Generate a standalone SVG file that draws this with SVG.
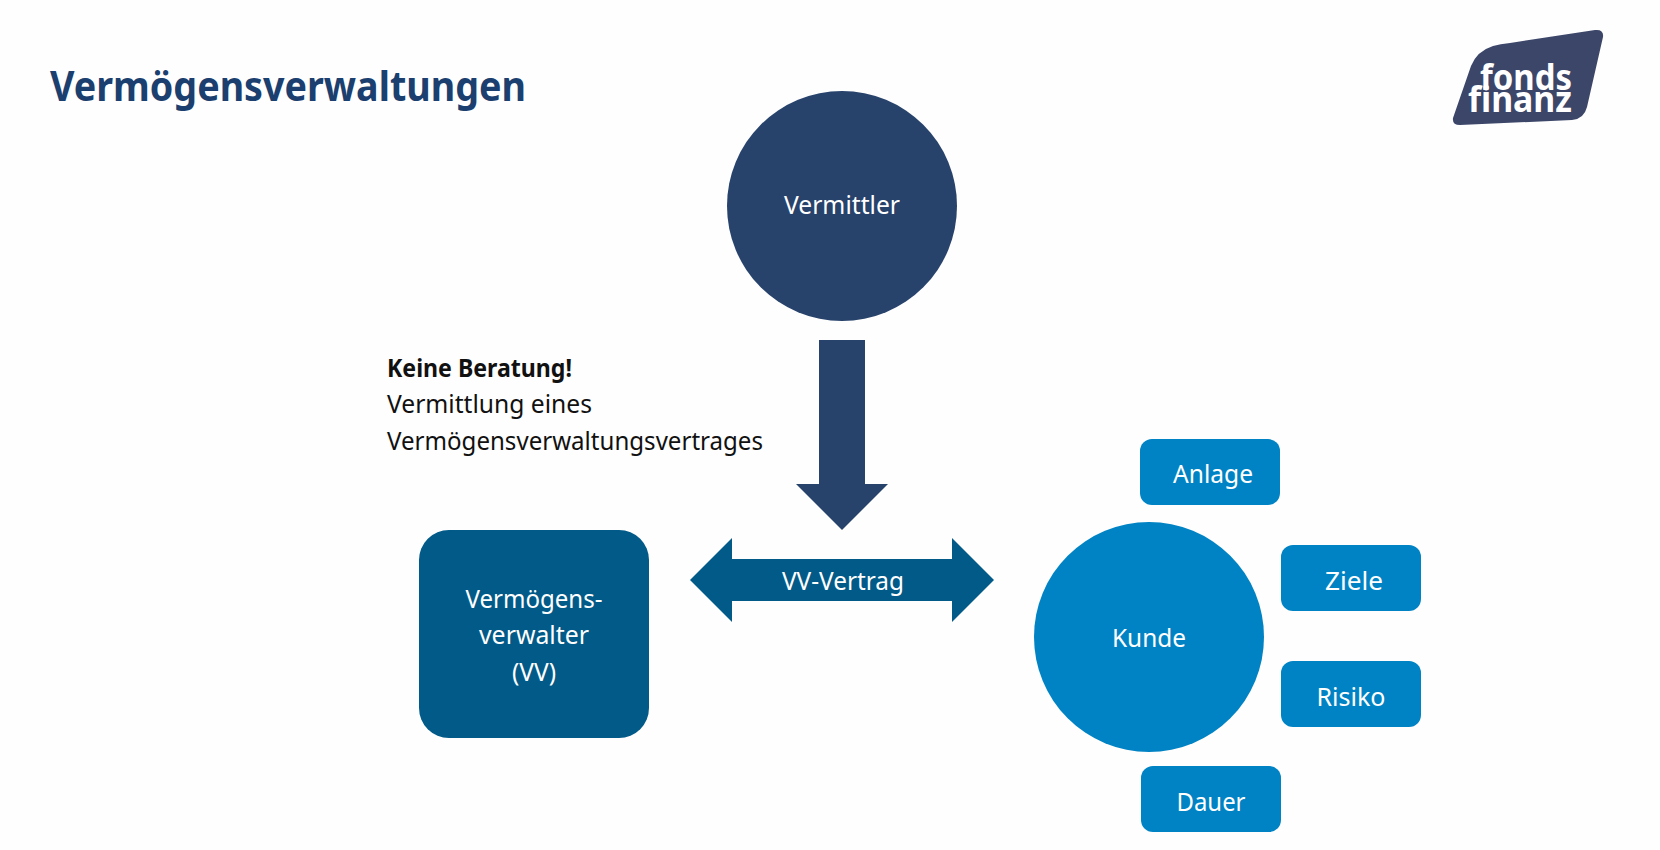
<svg xmlns="http://www.w3.org/2000/svg" width="1660" height="850" viewBox="0 0 1660 850">
<style>
text{font-family:"Noto Sans","Open Sans","Liberation Sans",sans-serif}
.w{fill:#fff;font-size:25px;text-anchor:middle}
.b{fill:#111;font-size:25px}
.box{fill:#0083c4}
</style>
<rect width="1660" height="850" fill="#fefefe"/>
<text id="title" x="50" y="101" font-size="41" font-weight="700" fill="#1b3f6e" textLength="476" lengthAdjust="spacingAndGlyphs">Vermögensverwaltungen</text>
<g id="logo">
<path d="M1471 66Q1477 51 1493 46Q1500 44 1510 43L1595 30Q1604 29 1603 37L1587 107Q1584 119 1572 120L1460 125Q1452 125 1453 118Z" fill="#3c4669"/>
<text x="1480" y="90" font-size="36" font-weight="700" fill="#fff" textLength="92" lengthAdjust="spacingAndGlyphs">fonds</text>
<text x="1468" y="112" font-size="36" font-weight="700" fill="#fff" textLength="104" lengthAdjust="spacingAndGlyphs">finanz</text>
</g>
<g id="connectors">
<path id="arrow-down" d="M819 340H865V484H888L842 530L796 484H819Z" fill="#27426b"/>
<path id="arrow-both" d="M690 580L732 538V559H952V538L994 580L952 622V601H732V622Z" fill="#015a88"/>
<text class="w" x="843" y="590" textLength="122" lengthAdjust="spacingAndGlyphs">VV-Vertrag</text>
</g>
<g id="vermittler"><circle cx="842" cy="206" r="115" fill="#27426b"/><text class="w" x="842" y="214" textLength="116" lengthAdjust="spacingAndGlyphs">Vermittler</text></g>
<g id="note">
<text class="b" x="387" y="377" font-weight="700" textLength="185" lengthAdjust="spacingAndGlyphs">Keine Beratung!</text>
<text class="b" x="387" y="413" textLength="205" lengthAdjust="spacingAndGlyphs">Vermittlung eines</text>
<text class="b" x="387" y="450" textLength="376" lengthAdjust="spacingAndGlyphs">Vermögensverwaltungsvertrages</text>
</g>
<g id="vv"><rect x="419" y="530" width="230" height="208" rx="30" fill="#015a88"/>
<text class="w" x="534" y="608" textLength="137" lengthAdjust="spacingAndGlyphs">Vermögens-</text>
<text class="w" x="534" y="644" textLength="110" lengthAdjust="spacingAndGlyphs">verwalter</text>
<text class="w" x="534" y="681" textLength="44" lengthAdjust="spacingAndGlyphs">(VV)</text></g>
<g id="kunde"><circle cx="1149" cy="637" r="115" fill="#0083c4"/><text class="w" x="1149" y="647" textLength="74" lengthAdjust="spacingAndGlyphs">Kunde</text></g>
<g id="anlage"><rect class="box" x="1140" y="439" width="140" height="66" rx="12"/><text class="w" x="1213" y="483" textLength="80" lengthAdjust="spacingAndGlyphs">Anlage</text></g>
<g id="ziele"><rect class="box" x="1281" y="545" width="140" height="66" rx="12"/><text class="w" x="1354" y="590" textLength="58" lengthAdjust="spacingAndGlyphs">Ziele</text></g>
<g id="risiko"><rect class="box" x="1281" y="661" width="140" height="66" rx="12"/><text class="w" x="1351" y="706" textLength="69" lengthAdjust="spacingAndGlyphs">Risiko</text></g>
<g id="dauer"><rect class="box" x="1141" y="766" width="140" height="66" rx="12"/><text class="w" x="1211" y="811" textLength="69" lengthAdjust="spacingAndGlyphs">Dauer</text></g>
</svg>
